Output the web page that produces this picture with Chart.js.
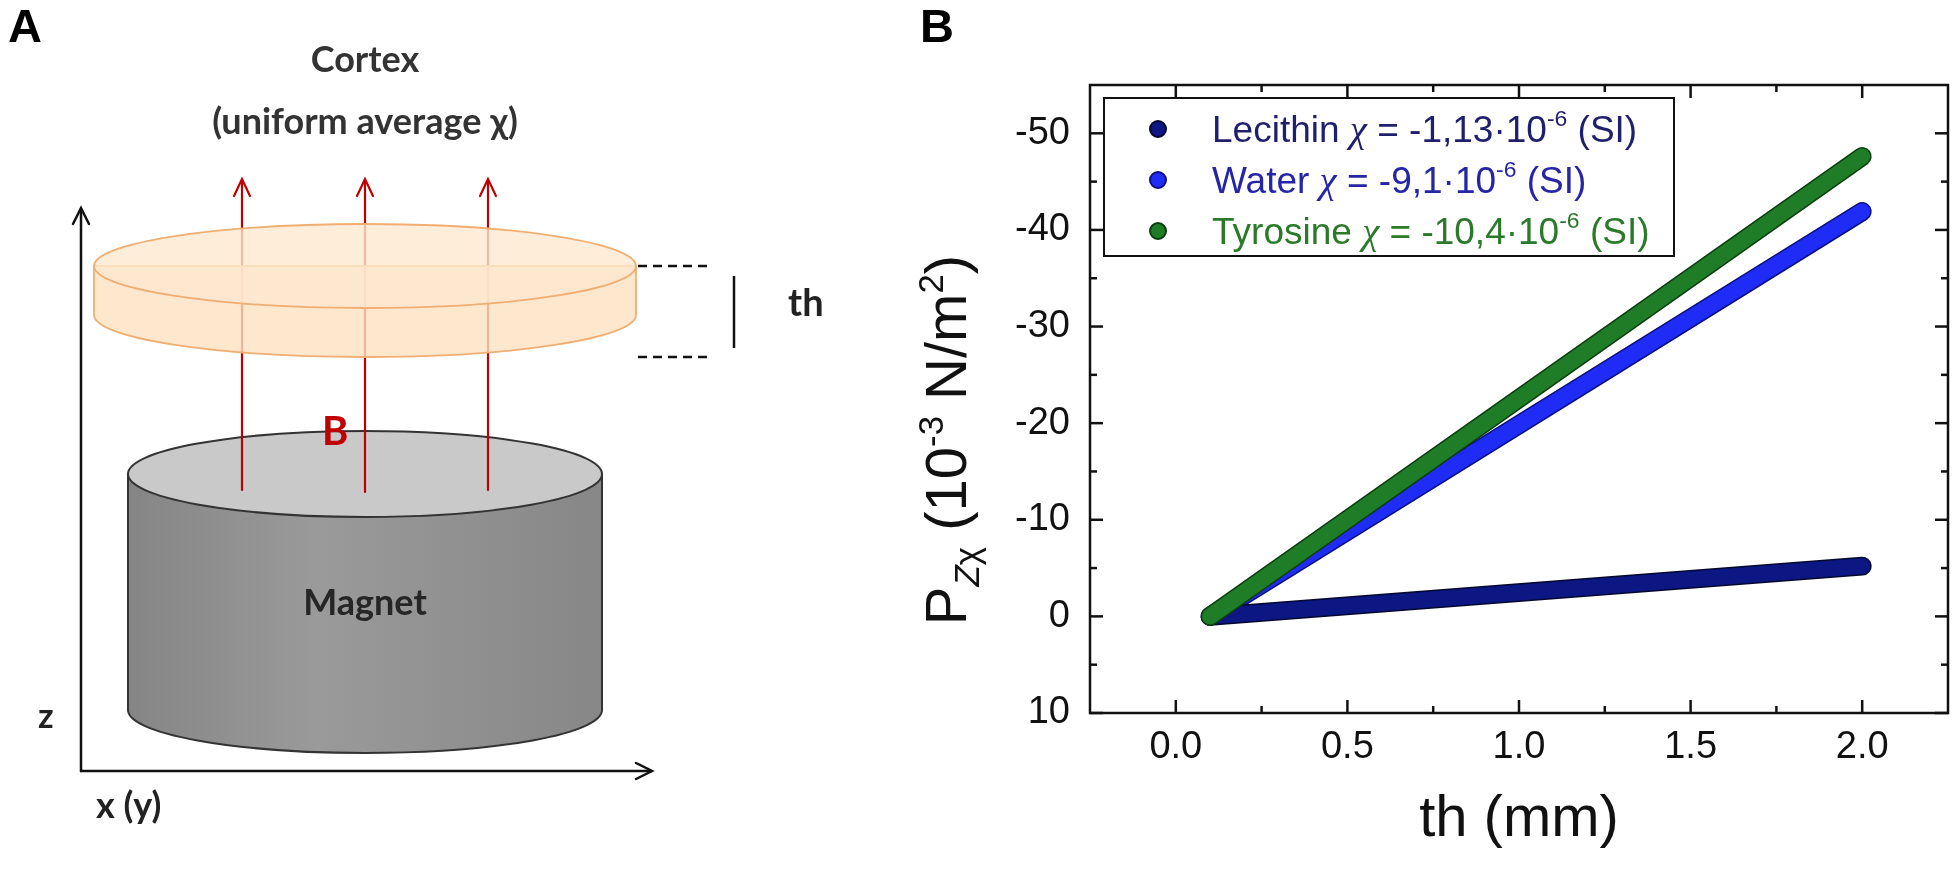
<!DOCTYPE html>
<html>
<head>
<meta charset="utf-8">
<script src="https://cdn.jsdelivr.net/npm/chart.js@4.4.1/dist/chart.umd.min.js"></script>
<style>
html,body{margin:0;padding:0;background:#fff;}
#wrap{position:relative;width:1955px;height:886px;overflow:hidden;background:#fff;}
#c{position:absolute;left:0;top:0;width:1955px;height:886px;}
#art{position:absolute;left:0;top:0;}
#ytitle{position:absolute;left:946px;top:440px;transform:translate(-50%,-50%) rotate(-90deg);
  font-family:'Liberation Sans',Arial,sans-serif;font-size:58px;line-height:1;white-space:nowrap;color:#111;}
#ytitle .sb{font-size:0.6em;position:relative;top:0.38em;}
#ytitle .sp{font-size:0.6em;position:relative;top:-0.66em;}
#xtitle{position:absolute;left:1519px;top:787px;transform:translateX(-50%);
  font-family:'Liberation Sans',Arial,sans-serif;font-size:58px;line-height:58px;white-space:nowrap;color:#111;}
#legend{position:absolute;left:1103px;top:97px;width:572px;height:160px;box-sizing:border-box;
  border:2.5px solid #111;background:#fff;font-family:'Liberation Sans',Arial,sans-serif;font-size:37px;}
#legend .row{position:absolute;left:0;height:52px;line-height:52px;white-space:nowrap;}
#legend .dot{position:absolute;left:44px;top:17px;width:18px;height:18px;border-radius:50%;box-sizing:border-box;}
#legend .txt{position:absolute;left:107px;top:0;}
#legend .chi{font-family:'Liberation Serif','Times New Roman',serif;font-style:italic;font-size:1.05em;}
#legend .sp{font-size:0.62em;position:relative;top:-0.7em;}
</style>
</head>
<body>
<div id="wrap">
<canvas id="c" width="1955" height="886"></canvas>

<svg id="art" width="1955" height="886" viewBox="0 0 1955 886" xmlns="http://www.w3.org/2000/svg">
  <defs>
    <linearGradient id="mgSide" x1="0" x2="1" y1="0" y2="0">
      <stop offset="0" stop-color="#858585"/>
      <stop offset="0.4" stop-color="#9a9a9a"/>
      <stop offset="1" stop-color="#878787"/>
    </linearGradient>
  </defs>
  <!-- panel labels -->
  <text x="8" y="42" font-family="Liberation Sans, Arial, sans-serif" font-weight="bold" font-size="47" fill="#000">A</text>
  <text x="920" y="42" font-family="Liberation Sans, Arial, sans-serif" font-weight="bold" font-size="47" fill="#000">B</text>

  <!-- title of panel A -->
  <text x="365" y="72" text-anchor="middle" font-family="Lato, sans-serif" font-weight="bold" font-size="36" fill="#333">Cortex</text>
  <text x="365" y="134" text-anchor="middle" font-family="Lato, sans-serif" font-weight="bold" font-size="36" fill="#333">(uniform average χ)</text>

  <!-- coordinate axes -->
  <g stroke="#111" stroke-width="2.5" fill="none" stroke-linecap="round">
    <line x1="81" y1="771" x2="81" y2="209"/>
    <polyline points="73,224 81,208 89,224"/>
    <line x1="81" y1="771" x2="651" y2="771"/>
    <polyline points="636,763 652,771 636,779"/>
  </g>
  <text x="38" y="728" font-family="Lato, sans-serif" font-weight="bold" font-size="34" fill="#222">z</text>
  <text x="96" y="818" font-family="Lato, sans-serif" font-weight="bold" font-size="36" fill="#222">x (y)</text>

  <!-- magnet -->
  <path d="M128 474 L128 710 A237 43 0 0 0 602 710 L602 474 Z" fill="url(#mgSide)" stroke="#333" stroke-width="2"/>
  <ellipse cx="365" cy="474" rx="237" ry="43" fill="#c9c9c9" stroke="#333" stroke-width="2"/>
  <text x="365" y="615" text-anchor="middle" font-family="Lato, sans-serif" font-weight="bold" font-size="36" fill="#262626">Magnet</text>

  <!-- field lines -->
  <g stroke="#c00000" stroke-width="2.2" fill="none" stroke-linecap="round">
    <line x1="242" y1="490" x2="242" y2="180"/>
    <polyline points="234,196 242,179 250,196"/>
    <line x1="365" y1="492" x2="365" y2="180"/>
    <polyline points="357,196 365,179 373,196"/>
    <line x1="488" y1="490" x2="488" y2="180"/>
    <polyline points="480,196 488,179 496,196"/>
  </g>
  <text x="322" y="445" font-family="Lato, sans-serif" font-weight="bold" font-size="40" fill="#c00000">B</text>

  <!-- cortex disc (semi transparent) -->
  <path d="M94 266 L94 315 A271 42 0 0 0 636 315 L636 266 Z" fill="#fce1c0" fill-opacity="0.8" stroke="#f0ae72" stroke-width="1.8"/>
  <ellipse cx="365" cy="266" rx="271" ry="42" fill="#fde8d0" fill-opacity="0.8" stroke="#f0ae72" stroke-width="1.8"/>

  <!-- thickness marker -->
  <g stroke="#111" stroke-width="2.5" fill="none">
    <line x1="638" y1="266" x2="713" y2="266" stroke-dasharray="9,6"/>
    <line x1="638" y1="357" x2="713" y2="357" stroke-dasharray="9,6"/>
    <line x1="734" y1="276" x2="734" y2="348"/>
  </g>
  <text x="788" y="316" font-family="Lato, sans-serif" font-weight="bold" font-size="38" fill="#222">th</text>
</svg>

<div id="ytitle">P<span class="sb"><i>Z</i>χ</span> (10<span class="sp">-3</span> N/m<span class="sp">2</span>)</div>
<div id="xtitle">th (mm)</div>
<div id="legend"></div>
</div>

<script>
// ---- data ----
const seriesNames = ['Lecithin', 'Water', 'Tyrosine'];
const chiValues = ['-1,13', '-9,1', '-10,4'];
const thValues = [0.1, 2.0];              // th (mm)
const lecithinP = [0, -5.2];              // P (10^-3 N/m^2)
const waterP = [0, -41.9];
const tyrosineP = [0, -47.6];
const xTickValues = [0, 0.5, 1.0, 1.5, 2.0];
const xMinorTicks = [0.25, 0.75, 1.25, 1.75];
const yTickValues = [-50, -40, -30, -20, -10, 0, 10];
const yMinorTicks = [-45, -35, -25, -15, -5, 5];

// ---- styles ----
const lineColors = ['#0c1784', '#1f2cf5', '#1f7d28'];
const edgeColors = ['#05082e', '#0b1180', '#0c3d10'];
const textColors = ['#1f1f6e', '#2525a6', '#2a7a2a'];
const drawOrder = [2, 3, 1];

Chart.defaults.font.family = "'Liberation Sans', Arial, sans-serif";

const seriesValues = [lecithinP, waterP, tyrosineP];
const datasets = seriesNames.map((name, i) => ({
  label: name,
  data: thValues.map((x, k) => ({x: x, y: seriesValues[i][k]})),
  showLine: true,
  borderColor: lineColors[i],
  backgroundColor: lineColors[i],
  borderWidth: 16,
  borderCapStyle: 'round',
  pointRadius: 0,
  order: drawOrder[i],
  edgeColor: edgeColors[i]
}));

const edgePlugin = {
  id: 'edge',
  beforeDatasetDraw(chart, args) {
    const meta = args.meta;
    const ds = chart.data.datasets[args.index];
    const pts = meta.data;
    if (!pts.length) return;
    const ctx = chart.ctx;
    ctx.save();
    ctx.beginPath();
    ctx.moveTo(pts[0].x, pts[0].y);
    for (let k = 1; k < pts.length; k++) ctx.lineTo(pts[k].x, pts[k].y);
    ctx.lineWidth = ds.borderWidth + 3;
    ctx.lineCap = 'round';
    ctx.strokeStyle = ds.edgeColor;
    ctx.stroke();
    ctx.restore();
  }
};

const framePlugin = {
  id: 'frame',
  afterDraw(chart) {
    const {ctx, chartArea: a, scales: {x, y}} = chart;
    ctx.save();
    ctx.strokeStyle = '#111';
    ctx.lineWidth = 2.5;
    ctx.strokeRect(a.left, a.top, a.right - a.left, a.bottom - a.top);
    const seg = (x1, y1, x2, y2) => { ctx.beginPath(); ctx.moveTo(x1, y1); ctx.lineTo(x2, y2); ctx.stroke(); };
    const major = 13, minor = 7;
    xTickValues.forEach(v => { const p = x.getPixelForValue(v); seg(p, a.bottom, p, a.bottom - major); seg(p, a.top, p, a.top + major); });
    xMinorTicks.forEach(v => { const p = x.getPixelForValue(v); seg(p, a.bottom, p, a.bottom - minor); seg(p, a.top, p, a.top + minor); });
    yTickValues.forEach(v => { const p = y.getPixelForValue(v); seg(a.left, p, a.left + major, p); seg(a.right, p, a.right - major, p); });
    yMinorTicks.forEach(v => { const p = y.getPixelForValue(v); seg(a.left, p, a.left + minor, p); seg(a.right, p, a.right - minor, p); });
    ctx.restore();
  }
};

new Chart(document.getElementById('c'), {
  type: 'scatter',
  data: {datasets: datasets},
  options: {
    responsive: false,
    animation: false,
    layout: {padding: {left: 0, top: 85, right: 7, bottom: 0}, autoPadding: false},
    plugins: {legend: {display: false}, tooltip: {enabled: false}},
    scales: {
      x: {
        type: 'linear', min: -0.25, max: 2.25,
        grid: {display: false, drawTicks: false},
        border: {display: false},
        afterBuildTicks: s => { s.ticks = xTickValues.map(v => ({value: v})); },
        afterFit: s => { s.height = 173; },
        ticks: {font: {size: 38}, color: '#111', padding: 12, maxRotation: 0, autoSkip: false,
                callback: v => Number(v).toFixed(1)}
      },
      y: {
        type: 'linear', reverse: true, min: -55, max: 10,
        grid: {display: false, drawTicks: false},
        border: {display: false},
        afterBuildTicks: s => { s.ticks = yTickValues.map(v => ({value: v})); },
        afterFit: s => { s.width = 1090; },
        ticks: {font: {size: 38}, color: '#111', padding: 20, autoSkip: false,
                callback: v => String(v)}
      }
    }
  },
  plugins: [edgePlugin, framePlugin]
});

// legend built from the series arrays
const legendEl = document.getElementById('legend');
seriesNames.forEach((n, i) => {
  const row = document.createElement('div');
  row.className = 'row';
  row.style.top = (4 + i * 51) + 'px';
  row.style.width = '100%';
  row.innerHTML = '<span class="dot" style="background:' + lineColors[i] + ';border:2px solid ' + edgeColors[i] + '"></span>' +
    '<span class="txt" style="color:' + textColors[i] + '">' + n + ' <span class="chi">χ</span> = ' + chiValues[i] +
    '·10<span class="sp">-6</span> (SI)</span>';
  legendEl.appendChild(row);
});
</script>
</body>
</html>
